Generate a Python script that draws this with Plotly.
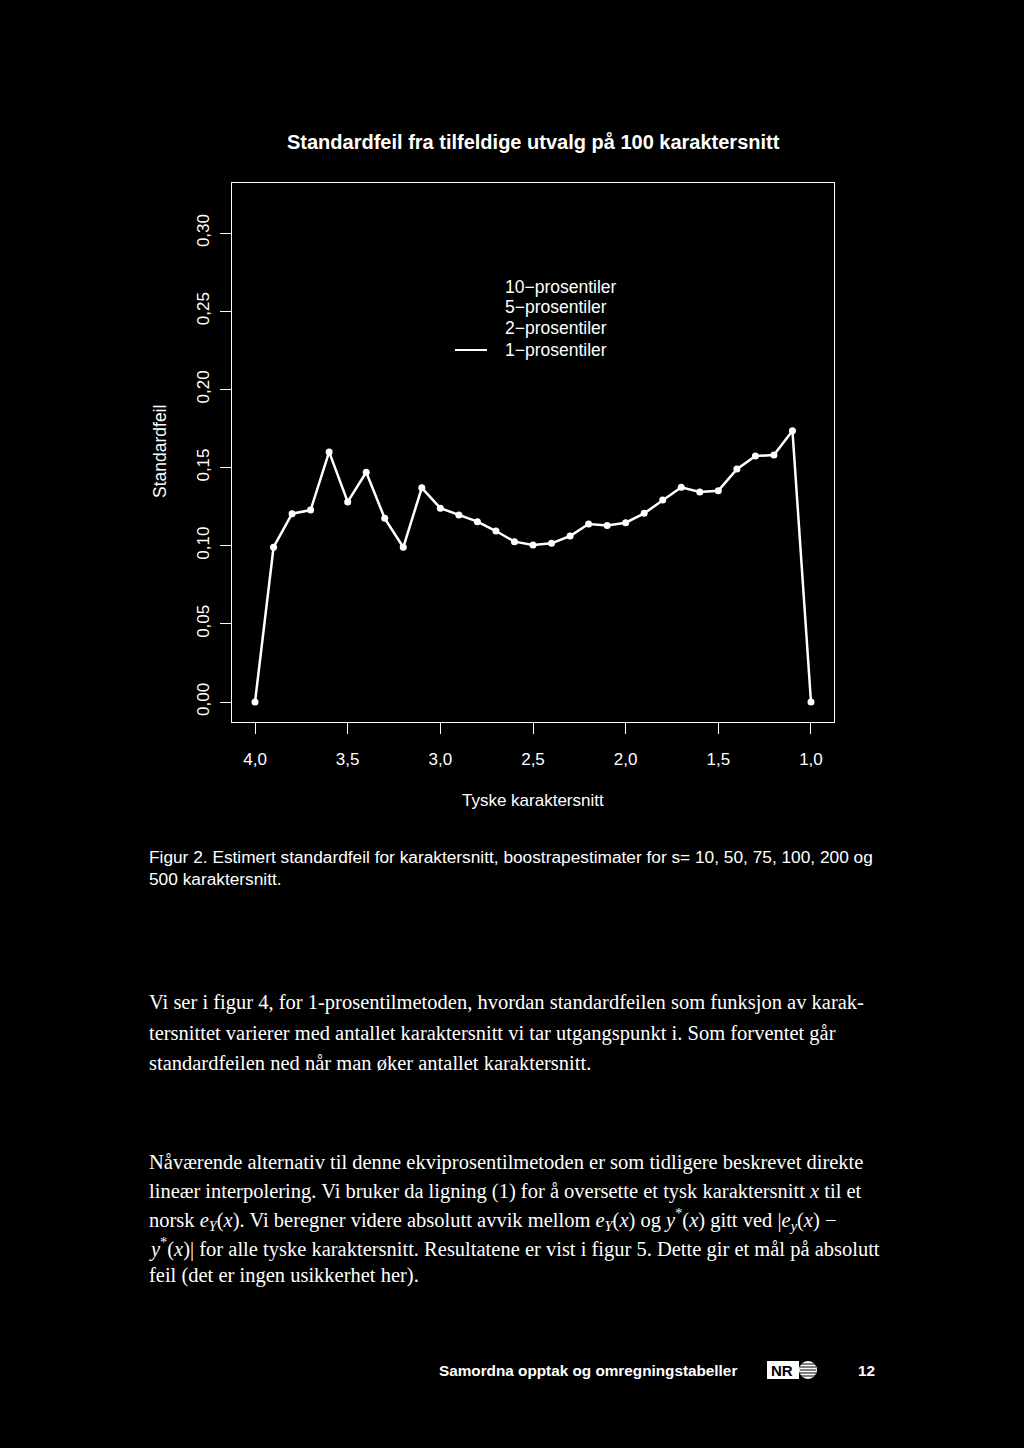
import plotly.graph_objects as go

# ---- data ----
karaktersnitt = [4.0, 3.9, 3.8, 3.7, 3.6, 3.5, 3.4, 3.3, 3.2, 3.1, 3.0,
                 2.9, 2.8, 2.7, 2.6, 2.5, 2.4, 2.3, 2.2, 2.1, 2.0,
                 1.9, 1.8, 1.7, 1.6, 1.5, 1.4, 1.3, 1.2, 1.1, 1.0]
standardfeil_1p = [0.000, 0.099, 0.1205, 0.1228, 0.160, 0.128, 0.147, 0.1175, 0.099, 0.137, 0.124,
                   0.1196, 0.1154, 0.1094, 0.1026, 0.1004, 0.1015, 0.1062, 0.1139, 0.113, 0.1147,
                   0.1207, 0.1292, 0.1374, 0.1344, 0.1352, 0.149, 0.1574, 0.158, 0.1736, 0.000]
x_ticks = [4.0, 3.5, 3.0, 2.5, 2.0, 1.5, 1.0]
x_ticktext = ["4,0", "3,5", "3,0", "2,5", "2,0", "1,5", "1,0"]
y_ticks = [0.00, 0.05, 0.10, 0.15, 0.20, 0.25, 0.30]
y_ticktext = ["0,00", "0,05", "0,10", "0,15", "0,20", "0,25", "0,30"]
legend_labels = ["10\u2212prosentiler", "5\u2212prosentiler", "2\u2212prosentiler", "1\u2212prosentiler"]

W, H = 1024, 1448
L, R, T, B = 232, 834, 183, 722

def px(x):
    return (x - L) / (R - L)

def py(y):
    return (B - y) / (B - T)

SANS = "Liberation Sans, Arial, sans-serif"
SERIF = "Liberation Serif, DejaVu Serif, serif"

fig = go.Figure()
fig.add_trace(go.Scatter(
    x=karaktersnitt, y=standardfeil_1p, mode="lines+markers",
    line=dict(color="white", width=2.5),
    marker=dict(color="white", size=7, symbol="circle"),
    showlegend=False, cliponaxis=False))

annotations = []
def txt(x, y, s, size=15, family=SANS, xanchor="left", color="white", angle=0):
    annotations.append(dict(x=px(x), y=py(y), xref="paper", yref="paper", text=s,
                            showarrow=False, xanchor=xanchor, yanchor="middle",
                            font=dict(family=family, size=size, color=color),
                            textangle=angle))

# title and axis titles
txt(533, 142, "<b>Standardfeil fra tilfeldige utvalg på 100 karaktersnitt</b>", size=20, xanchor="center")
txt(533, 800, "Tyske karaktersnitt", size=17, xanchor="center")
txt(160, 452, "Standardfeil", size=17.5, xanchor="center", angle=-90)

# legend
for lab, yy in zip(legend_labels, [287, 307, 328, 350]):
    txt(503, yy, lab, size=17.5)

shapes = [dict(type="line", xref="paper", yref="paper", x0=px(455), x1=px(487),
               y0=py(350), y1=py(350), line=dict(color="white", width=2))]

# caption
txt(147, 857, "Figur 2. Estimert standardfeil for karaktersnitt, boostrapestimater for s= 10, 50, 75, 100, 200 og", size=17.3)
txt(147, 879, "500 karaktersnitt.", size=17.3)

# paragraph 1
p1 = ["Vi ser i figur 4, for 1-prosentilmetoden, hvordan standardfeilen som funksjon av karak-",
      "tersnittet varierer med antallet karaktersnitt vi tar utgangspunkt i. Som forventet går",
      "standardfeilen ned når man øker antallet karaktersnitt."]
for s, yy in zip(p1, [1003, 1033, 1063]):
    txt(147, yy, s, size=20.5, family=SERIF)

eY = "<i>e</i><sub><i>Y</i></sub>(<i>x</i>)"
ys = "<i>y</i><sup>*</sup>(<i>x</i>)"
p2 = ["Nåværende alternativ til denne ekviprosentilmetoden er som tidligere beskrevet direkte",
      "lineær interpolering. Vi bruker da ligning (1) for å oversette et tysk karaktersnitt <i>x</i> til et",
      "norsk " + eY + ". Vi beregner videre absolutt avvik mellom " + eY + " og " + ys +
      " gitt ved |<i>e</i><sub><i>y</i></sub>(<i>x</i>) \u2212",
      ys + "| for alle tyske karaktersnitt. Resultatene er vist i figur 5. Dette gir et mål på absolutt",
      "feil (det er ingen usikkerhet her)."]
for s, yy in zip(p2, [1162, 1191, 1219, 1247, 1275]):
    txt(147, yy, s, size=20.5, family=SERIF)

# footer
txt(437, 1370, "<b>Samordna opptak og omregningstabeller</b>", size=15.3)
txt(877, 1370, "<b>12</b>", size=15.3, xanchor="right")
shapes.append(dict(type="rect", xref="paper", yref="paper", x0=px(767), x1=px(799),
                   y0=py(1379), y1=py(1361), fillcolor="white", line=dict(width=0)))
txt(769, 1370, "<b>NR</b>", size=15, color="black")
shapes.append(dict(type="circle", xref="paper", yref="paper", x0=px(799), x1=px(817),
                   y0=py(1379), y1=py(1361), fillcolor="white", line=dict(width=0)))
for yy in [1364, 1367, 1370, 1373, 1376]:
    shapes.append(dict(type="line", xref="paper", yref="paper", x0=px(800), x1=px(816),
                       y0=py(yy), y1=py(yy), line=dict(color="black", width=1)))

fig.update_layout(
    width=W, height=H,
    margin=dict(l=L, r=W - R, t=T, b=H - B, pad=0),
    paper_bgcolor="black", plot_bgcolor="black",
    xaxis=dict(range=[4.0 + (255 - L) / 185.2, 1.0 - (R - 811) / 185.2],
               tickvals=x_ticks, ticktext=x_ticktext, ticks="outside", ticklen=11,
               tickwidth=1.2, tickcolor="white", showgrid=False, zeroline=False,
               showline=True, mirror=True, linecolor="white", linewidth=1.2,
               tickfont=dict(family=SANS, size=17, color="white"), ticklabelstandoff=10),
    yaxis=dict(range=[-(B - 702) / 1563, (702 - T) / 1563],
               tickvals=y_ticks, ticktext=y_ticktext, ticks="outside", ticklen=11,
               tickwidth=1.2, tickcolor="white", showgrid=False, zeroline=False,
               showline=True, mirror=True, linecolor="white", linewidth=1.2,
               tickangle=-90, tickfont=dict(family=SANS, size=17, color="white"),
               ticklabelstandoff=4),
    annotations=annotations, shapes=shapes, showlegend=False,
)

fig.write_html("out.html")
